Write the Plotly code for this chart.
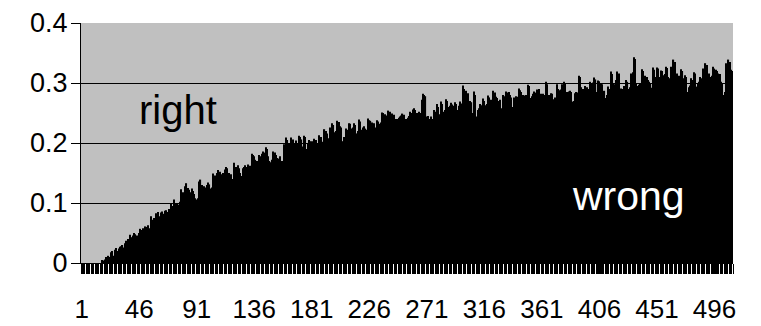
import plotly.graph_objects as go

# ---- data ----
values = [
    0, 0, 0, 0, 0, 0, 0, 0, 0, 0,
    0, 0, 0, 0, 0, 0, 0.005, 0.004, 0.006, 0.01,
    0.008, 0.012, 0.01, 0.018, 0.02, 0.012, 0.022, 0.025, 0.02, 0.024,
    0.027, 0.028, 0.03, 0.026, 0.033, 0.037, 0.04, 0.035, 0.047, 0.043,
    0.046, 0.05, 0.048, 0.046, 0.044, 0.05, 0.057, 0.055, 0.058, 0.054,
    0.061, 0.06, 0.063, 0.058, 0.078, 0.072, 0.066, 0.075, 0.083, 0.08,
    0.085, 0.078, 0.084, 0.086, 0.082, 0.087, 0.088, 0.085, 0.09, 0.087,
    0.099, 0.095, 0.106, 0.1, 0.098, 0.1, 0.097, 0.102, 0.123, 0.118,
    0.112, 0.128, 0.133, 0.125, 0.122, 0.118, 0.124, 0.12, 0.115, 0.108,
    0.106, 0.108, 0.136, 0.139, 0.13, 0.127, 0.128, 0.126, 0.13, 0.134,
    0.131, 0.124, 0.126, 0.149, 0.146, 0.145, 0.15, 0.155, 0.152, 0.141,
    0.148, 0.15, 0.156, 0.16, 0.158, 0.15, 0.144, 0.148, 0.14, 0.167,
    0.16, 0.16, 0.163, 0.158, 0.15, 0.145, 0.158, 0.16, 0.163, 0.16,
    0.164, 0.158, 0.162, 0.182, 0.18, 0.178, 0.172, 0.17, 0.158, 0.18,
    0.178, 0.182, 0.186, 0.184, 0.193, 0.19, 0.178, 0.17, 0.168, 0.172,
    0.186, 0.184, 0.18, 0.175, 0.174, 0.178, 0.168, 0.17, 0.198, 0.195,
    0.209, 0.205, 0.2, 0.198, 0.209, 0.206, 0.198, 0.2, 0.204, 0.2,
    0.212, 0.21, 0.206, 0.194, 0.212, 0.21, 0.19, 0.2, 0.205, 0.203,
    0.203, 0.196, 0.207, 0.205, 0.198, 0.2, 0.213, 0.21, 0.202, 0.2,
    0.223, 0.22, 0.216, 0.208, 0.226, 0.224, 0.233, 0.23, 0.218, 0.22,
    0.237, 0.235, 0.228, 0.226, 0.203, 0.21, 0.208, 0.224, 0.222, 0.233,
    0.232, 0.224, 0.226, 0.233, 0.23, 0.216, 0.22, 0.239, 0.236, 0.222,
    0.226, 0.228, 0.224, 0.222, 0.241, 0.238, 0.237, 0.234, 0.232, 0.233,
    0.226, 0.238, 0.236, 0.232, 0.234, 0.251, 0.25, 0.248, 0.246, 0.24,
    0.254, 0.252, 0.238, 0.249, 0.247, 0.238, 0.24, 0.24, 0.242, 0.244,
    0.246, 0.249, 0.247, 0.238, 0.24, 0.242, 0.245, 0.252, 0.25, 0.256,
    0.258, 0.255, 0.25, 0.248, 0.252, 0.25, 0.272, 0.282, 0.28, 0.278,
    0.244, 0.245, 0.24, 0.244, 0.24, 0.23, 0.255, 0.252, 0.265, 0.26,
    0.248, 0.269, 0.265, 0.252, 0.255, 0.273, 0.27, 0.26, 0.262, 0.267,
    0.264, 0.262, 0.268, 0.265, 0.255, 0.262, 0.269, 0.266, 0.296, 0.29,
    0.265, 0.287, 0.283, 0.244, 0.27, 0.268, 0.25, 0.286, 0.28, 0.244,
    0.255, 0.258, 0.265, 0.263, 0.274, 0.27, 0.263, 0.265, 0.279, 0.276,
    0.272, 0.27, 0.287, 0.284, 0.277, 0.275, 0.27, 0.272, 0.255, 0.258,
    0.28, 0.278, 0.286, 0.284, 0.285, 0.28, 0.276, 0.26, 0.276, 0.274,
    0.278, 0.277, 0.291, 0.288, 0.285, 0.28, 0.279, 0.278, 0.28, 0.297,
    0.295, 0.275, 0.278, 0.282, 0.286, 0.284, 0.289, 0.288, 0.29, 0.282,
    0.28, 0.282, 0.28, 0.302, 0.298, 0.278, 0.28, 0.283, 0.282, 0.273,
    0.276, 0.266, 0.298, 0.29, 0.288, 0.289, 0.298, 0.302, 0.3, 0.283,
    0.285, 0.286, 0.287, 0.285, 0.269, 0.27, 0.283, 0.285, 0.284, 0.312,
    0.31, 0.293, 0.29, 0.285, 0.295, 0.293, 0.288, 0.29, 0.302, 0.3,
    0.301, 0.309, 0.306, 0.285, 0.304, 0.303, 0.3, 0.298, 0.285, 0.287,
    0.275, 0.28, 0.294, 0.29, 0.319, 0.315, 0.3, 0.298, 0.305, 0.319,
    0.316, 0.274, 0.291, 0.29, 0.295, 0.288, 0.305, 0.302, 0.29, 0.293,
    0.316, 0.318, 0.343, 0.34, 0.3, 0.295, 0.297, 0.3, 0.323, 0.32,
    0.3, 0.312, 0.31, 0.305, 0.302, 0.3, 0.292, 0.326, 0.322, 0.31,
    0.326, 0.324, 0.31, 0.321, 0.32, 0.313, 0.315, 0.327, 0.325, 0.31,
    0.308, 0.327, 0.277, 0.339, 0.335, 0.3, 0.316, 0.312, 0.305, 0.323,
    0.32, 0.308, 0.313, 0.31, 0.285, 0.293, 0.296, 0.308, 0.305, 0.318,
    0.316, 0.294, 0.3, 0.302, 0.31, 0.308, 0.324, 0.322, 0.333, 0.33,
    0.315, 0.316, 0.31, 0.312, 0.327, 0.324, 0.322, 0.32, 0.316, 0.315,
    0.302, 0.3, 0.28, 0.285, 0.333, 0.33, 0.339, 0.335, 0.322, 0.32,
]
categories = list(range(1, len(values) + 1))
x_tick_values = [1, 46, 91, 136, 181, 226, 271, 316, 361, 406, 451, 496]
y_tick_values = [0, 0.1, 0.2, 0.3, 0.4]
y_tick_labels = ["0", "0.1", "0.2", "0.3", "0.4"]
label_right = "right"
label_wrong = "wrong"

tick_font = dict(family="Liberation Sans, Arial", size=26, color="black")
text_font_family = "Liberation Sans, Arial"

fig = go.Figure()
fig.add_trace(go.Bar(
    x=categories, y=values,
    marker=dict(color="black", line=dict(width=0)),
    hoverinfo="skip",
))

# the page body adds an 8px offset, so the figure is 8px smaller
fig.update_layout(
    width=753, height=318,
    margin=dict(l=73, r=28, t=15, b=63, autoexpand=False),
    paper_bgcolor="white",
    plot_bgcolor="#C0C0C0",
    bargap=0.1,
    showlegend=False,
    font=tick_font,
)

fig.update_xaxes(
    automargin=False,
    range=[0.5, len(values) + 0.5],
    tickmode="array", tickvals=x_tick_values,
    ticktext=[str(v) for v in x_tick_values],
    ticks="outside", ticklen=10, tickcolor="black", tickwidth=1,
    minor=dict(tick0=0.5, dtick=1, ticks="outside", ticklen=10,
               tickcolor="black", tickwidth=1, showgrid=False),
    ticklabelstandoff=13,
    showgrid=False, zeroline=False,
    showline=True, linecolor="black", linewidth=1,
    tickfont=tick_font,
)

fig.update_yaxes(
    automargin=False,
    range=[0, 0.4],
    tickmode="array", tickvals=y_tick_values, ticktext=y_tick_labels,
    ticks="outside", ticklen=9, tickcolor="black", tickwidth=1,
    showgrid=True, gridcolor="black", gridwidth=1,
    zeroline=False,
    showline=True, linecolor="black", linewidth=1,
    tickfont=dict(family="Liberation Sans, Arial", size=27, color="black"),
    ticklabelstandoff=-2,
)

fig.add_annotation(
    x=0.149, y=0.6375, xref="paper", yref="paper",
    xanchor="center", yanchor="middle",
    text=label_right, showarrow=False,
    font=dict(family=text_font_family, size=40, color="black"),
)
fig.add_annotation(
    x=0.839, y=0.279, xref="paper", yref="paper",
    xanchor="center", yanchor="middle",
    text=label_wrong, showarrow=False,
    font=dict(family=text_font_family, size=41, color="white"),
)

fig.write_html("out.html")
